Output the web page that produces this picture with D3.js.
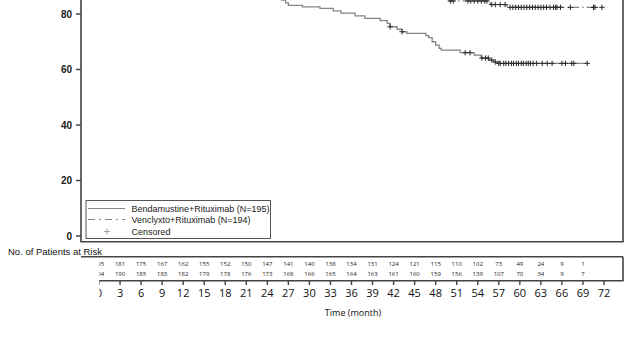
<!DOCTYPE html>
<html>
<head>
<meta charset="utf-8">
<script src="https://cdn.jsdelivr.net/npm/d3@7"></script>
<style>
  body { margin: 0; background: #fff; }
  svg { display: block; }
</style>
</head>
<body>
<svg id="km" width="631" height="354"></svg>
<script>
// step curves: [month, % survival]
var bendaCurve = [[0,100],[1,99],[2,98],[3,97],[5,95.5],[7,94],[9,92.5],[12,91],[15,89.5],[18,88],[21,87],[24,86],
  [26,85],[26.6,84],[27,83.1],[29,82.6],[31.5,82.0],[33.4,81.1],[34.5,80.3],[36.5,79.3],[37.9,78.4],[40.1,77.6],
  [41.1,76.6],[41.5,75.4],[42.5,74.5],[43.2,73.6],[43.9,73.0],[46.6,72.2],[47.0,71.5],[47.5,70.0],[48.0,68.8],
  [48.5,67.6],[48.8,67.0],[51.5,66.05],[53.5,65.2],[54.5,64.1],[55.6,63.4],[56.3,62.7],[57.0,62.2]];
var bendaEnd = 69.6;
var venCurve = [[0,100],[2,99],[4,98],[6,97.5],[9,97],[12,96.5],[15,95.5],[18,95],[21,94],[24,93],[27,92],[30,91],
  [33,90.5],[36,90],[39,89],[42,88],[45,87],[48,85.5],[49.5,84.7],[55.8,83.4],[58.2,82.4]];
var venEnd = 71.7;

var bendaCensor = [41.5, 43.2, 52.2, 52.9, 54.6, 55.1, 55.5, 56.0, 56.5, 57.0, 57.2, 57.7, 58.0, 58.4, 58.8, 59.1,
  59.5, 59.8, 60.2, 60.5, 60.9, 61.2, 61.5, 61.9, 62.4, 63.2, 63.9, 64.6, 66.0, 66.5, 67.4, 67.7, 69.6];
var venCensor = [50.1, 50.5, 52.6, 53.0, 53.5, 54.0, 54.5, 55.0, 55.3, 56.0, 56.5, 57.2, 57.9, 58.6, 59.0, 59.4,
  59.8, 60.2, 60.6, 61.0, 61.4, 61.8, 62.2, 62.6, 63.0, 63.4, 63.8, 64.3, 64.8, 65.1, 65.3, 65.8, 67.2, 70.5, 70.7, 71.7];

var riskTimes = d3.range(0, 73, 3);
var riskBenda = [195,181,175,167,162,155,152,150,147,141,140,138,134,131,124,121,115,110,102,73,49,24,9,1];
var riskVen   = [194,190,185,183,182,179,178,176,173,168,166,165,164,163,161,160,159,156,139,107,70,34,9,7];
var yTicks = [0, 20, 40, 60, 80];
var legendLabels = ["Bendamustine+Rituximab (N=195)", "Venclyxto+Rituximab (N=194)", "Censored"];

var svg = d3.select("#km");

var x = d3.scaleLinear().domain([0, 72]).range([99, 604]);
var y = d3.scaleLinear().domain([0, 80]).range([236, 14]);

var frameL = 81, frameR = 623, frameB = 241.7;
var lineCol = "#858585", axisCol = "#444";

// survival at time t from a step curve
function survAt(curve, t) {
  var v = curve[0][1];
  curve.forEach(d => { if (d[0] <= t) v = d[1]; });
  return v;
}
function stepLine(curve, end) {
  var pts = curve.slice();
  pts.push([end, curve[curve.length - 1][1]]);
  return d3.line().x(d => x(d[0])).y(d => y(d[1])).curve(d3.curveStepAfter)(pts);
}

svg.append("clipPath").attr("id", "plotclip")
  .append("rect").attr("x", frameL).attr("y", -50).attr("width", frameR - frameL).attr("height", frameB + 50);

var plot = svg.append("g").attr("clip-path", "url(#plotclip)");

plot.append("path").attr("d", stepLine(bendaCurve, bendaEnd))
  .attr("fill", "none").attr("stroke", lineCol).attr("stroke-width", 1.3);
plot.append("path").attr("d", stepLine(venCurve, venEnd))
  .attr("fill", "none").attr("stroke", lineCol).attr("stroke-width", 1.3)
  .attr("stroke-dasharray", "7,3,1.5,3");

function censors(times, curve) {
  plot.append("g").selectAll("path").data(times).enter().append("path")
    .attr("d", t => {
      var cx = x(t), cy = y(survAt(curve, t));
      return "M" + (cx - 2.7) + "," + cy + "H" + (cx + 2.7) + "M" + cx + "," + (cy - 2.7) + "V" + (cy + 2.7);
    })
    .attr("stroke", "#2a2a2a").attr("stroke-width", 1).attr("fill", "none");
}
censors(bendaCensor, bendaCurve);
censors(venCensor, venCurve);

// frame
svg.append("path")
  .attr("d", "M" + frameL + ",0V" + frameB + "H" + frameR + "V0")
  .attr("fill", "none").attr("stroke", axisCol).attr("stroke-width", 1.6);

// y axis ticks and labels
var yAxis = svg.append("g");
yAxis.selectAll("line").data(yTicks).enter().append("line")
  .attr("x1", 76).attr("x2", frameL).attr("y1", d => y(d)).attr("y2", d => y(d))
  .attr("stroke", axisCol).attr("stroke-width", 1.5);
yAxis.selectAll("text").data(yTicks).enter().append("text")
  .attr("x", 72).attr("y", d => y(d)).attr("dy", "0.35em")
  .attr("text-anchor", "end")
  .style("font", "bold 10px 'Liberation Sans', Arial, sans-serif").style("fill", "#222")
  .text(d => d);

// legend
var lg = svg.append("g");
lg.append("rect").attr("x", 86).attr("y", 200.5).attr("width", 184.5).attr("height", 38)
  .attr("fill", "#fff").attr("stroke", "#555").attr("stroke-width", 1);
var lgY = [208.5, 219.5, 231.5];
lg.append("line").attr("x1", 88).attr("x2", 125).attr("y1", lgY[0]).attr("y2", lgY[0])
  .attr("stroke", lineCol).attr("stroke-width", 1.2);
lg.append("line").attr("x1", 88).attr("x2", 125).attr("y1", lgY[1]).attr("y2", lgY[1])
  .attr("stroke", lineCol).attr("stroke-width", 1.2).attr("stroke-dasharray", "7,4,2,4");
lg.append("path").attr("d", "M104,231.5H110M107,228.5V234.5")
  .attr("stroke", "#999").attr("stroke-width", 0.9);
lg.selectAll("text").data(legendLabels).enter().append("text")
  .attr("x", 131.5).attr("y", (d, i) => lgY[i]).attr("dy", "0.35em")
  .style("font", "9px 'Liberation Sans', Arial, sans-serif").style("fill", "#222")
  .text(d => d);

// risk table
svg.append("text").attr("x", 8).attr("y", 254.5)
  .style("font", "9.5px 'Liberation Sans', Arial, sans-serif").style("fill", "#111")
  .text("No. of Patients at Risk");

svg.append("line").attr("x1", frameL).attr("x2", frameR).attr("y1", 256.7).attr("y2", 256.7)
  .attr("stroke", axisCol).attr("stroke-width", 1.6);

svg.append("clipPath").attr("id", "riskclip")
  .append("rect").attr("x", 99.3).attr("y", 250).attr("width", 540).attr("height", 60);
var risk = svg.append("g").attr("clip-path", "url(#riskclip)");

risk.append("path").attr("d", "M90,280.7H" + frameR + "V256.7")
  .attr("fill", "none").attr("stroke", axisCol).attr("stroke-width", 1.6);

[riskBenda, riskVen].forEach((row, r) => {
  risk.append("g").selectAll("text").data(row).enter().append("text")
    .attr("x", (d, i) => x(riskTimes[i])).attr("y", r === 0 ? 264 : 274).attr("dy", "0.35em")
    .attr("text-anchor", "middle")
    .style("font", "6px 'Open Sans', sans-serif").style("fill", "#222")
    .text(d => d);
});

risk.append("g").selectAll("line").data(riskTimes).enter().append("line")
  .attr("x1", d => x(d)).attr("x2", d => x(d)).attr("y1", 280.7).attr("y2", 285)
  .attr("stroke", axisCol).attr("stroke-width", 1.4);
risk.append("g").selectAll("text").data(riskTimes).enter().append("text")
  .attr("x", d => x(d)).attr("y", 293.5).attr("dy", "0.35em")
  .attr("text-anchor", "middle")
  .style("font", "11px 'Open Sans', sans-serif").style("fill", "#111")
  .text(d => d);

svg.append("text").attr("x", (frameL + frameR) / 2 + 1).attr("y", 312.5).attr("dy", "0.35em")
  .attr("text-anchor", "middle")
  .style("font", "9px 'Open Sans', sans-serif").style("fill", "#111")
  .text("Time (month)");
</script>
</body>
</html>
